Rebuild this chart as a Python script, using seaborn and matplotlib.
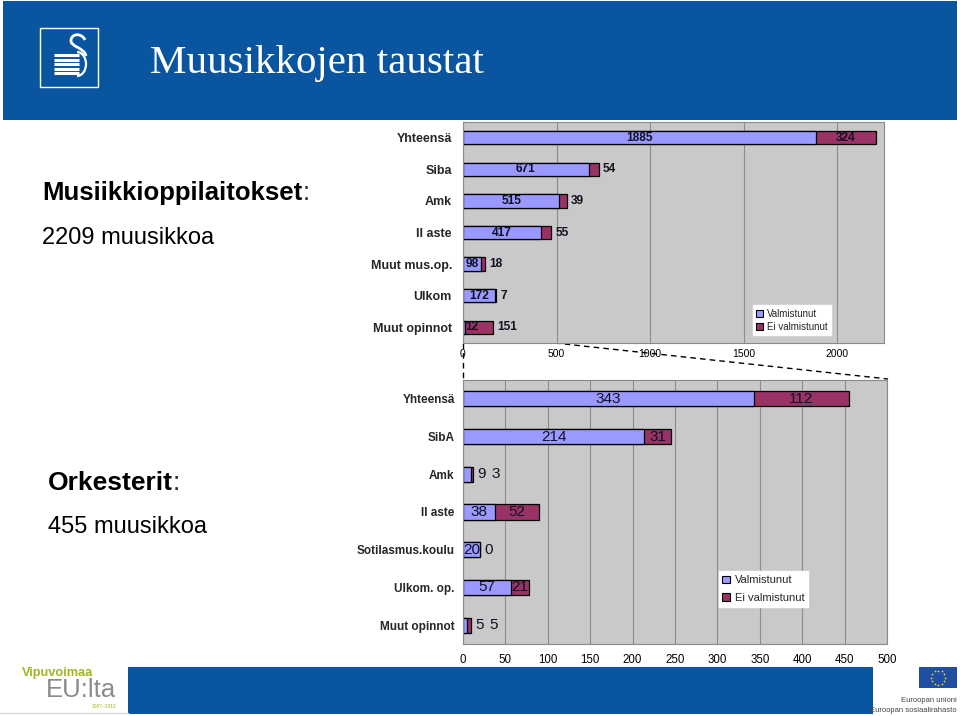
import numpy as np
import matplotlib
matplotlib.use('Agg')
import matplotlib.pyplot as plt
import seaborn as sns
from matplotlib.patches import Rectangle, Patch, Arc, PathPatch
from matplotlib.path import Path
from matplotlib.lines import Line2D

# --- data -----------------------------------------------------------------
series_names = ['Valmistunut', 'Ei valmistunut']

school_cats = ['Yhteensä', 'Siba', 'Amk', 'II aste', 'Muut mus.op.', 'Ulkom', 'Muut opinnot']
school_valm = [1885, 671, 515, 417, 98, 172, 12]
school_ei = [324, 54, 39, 55, 18, 7, 151]

orch_cats = ['Yhteensä', 'SibA', 'Amk', 'II aste', 'Sotilasmus.koulu', 'Ulkom. op.', 'Muut opinnot']
orch_valm = [343, 214, 9, 38, 20, 57, 5]
orch_ei = [112, 31, 3, 52, 0, 21, 5]

PURPLE = '#9999ff'
RED = '#993366'
BLUE = '#0a55a0'
PLOT_BG = '#c9c9c9'

sns.set_theme(style='white')
plt.rcParams['font.family'] = ['Liberation Sans', 'DejaVu Sans']

W, H = 960, 716
fig = plt.figure(figsize=(9.6, 7.16), dpi=100)
fig.patch.set_facecolor('white')

# background axes in pixel coordinates for the slide decoration
bg = fig.add_axes([0, 0, 1, 1])
bg.set_xlim(0, W)
bg.set_ylim(H, 0)
bg.axis('off')


def box(x0, y0, x1, y1):
    return [x0 / W, 1 - y1 / H, (x1 - x0) / W, (y1 - y0) / H]


def draw_stack(ax, cats, valm, ei, xmax, xstep, bar_w, inside_min,
               cat_fs, val_fs, val_weight, tick_fs, tick_pad, ypad,
               leg_anchor, leg_fs, leg_spacing):
    totals = [a + b for a, b in zip(valm, ei)]
    sns.barplot(x=totals, y=cats, orient='h', color=RED, width=bar_w,
                edgecolor='black', linewidth=0.9, saturation=1, ax=ax)
    sns.barplot(x=valm, y=cats, orient='h', color=PURPLE, width=bar_w,
                edgecolor='black', linewidth=0.9, saturation=1, ax=ax)
    ax.set_facecolor(PLOT_BG)
    ax.set_xlim(0, xmax)
    ax.set_ylim(len(cats) - 0.5, -0.5)
    ax.set_xticks(np.arange(0, xmax + 1, xstep))
    ax.set_axisbelow(True)
    ax.xaxis.grid(True, color='#8c8c8c', lw=0.8)
    ax.yaxis.grid(False)
    ax.set_xlabel('')
    ax.set_ylabel('')
    for s in ax.spines.values():
        s.set_color('#8a8a8a')
        s.set_linewidth(0.8)
    ax.tick_params(axis='x', length=0, pad=tick_pad, labelsize=tick_fs, colors='black')
    ax.tick_params(axis='y', length=0, pad=ypad, labelsize=cat_fs)
    for t in ax.get_yticklabels():
        t.set_fontweight('bold')
    ax.set_yticks(np.arange(-0.5, len(cats), 1), minor=True)
    ax.tick_params(axis='y', which='minor', length=4, direction='out', color='#8a8a8a')

    # data labels: inside the segment when it is wide enough, else after the bar
    for i in range(len(cats)):
        shift = 0
        segs = [(0, valm[i]), (valm[i], ei[i])]
        for k, (start, width) in enumerate(segs):
            label = str(width)
            if width >= inside_min[k] and width > 0:
                xc = start + max(width / 2, xmax * 0.02)
                ax.text(xc, i, label, ha='center', va='center', fontsize=val_fs,
                        fontweight=val_weight, color='#111122')
            else:
                ax.annotate(label, xy=(totals[i], i), xytext=(3 + shift, 0),
                            textcoords='offset points', ha='left', va='center',
                            fontsize=val_fs, fontweight=val_weight, color='#111122')
                shift += len(label) * val_fs * 0.56 + 4

    handles = [Patch(facecolor=PURPLE, edgecolor='black', lw=0.8),
               Patch(facecolor=RED, edgecolor='black', lw=0.8)]
    ax.legend(handles, series_names, loc='lower right', bbox_to_anchor=leg_anchor,
              frameon=True, fancybox=False, framealpha=1, facecolor='white',
              edgecolor='white', fontsize=leg_fs, handlelength=0.7, handleheight=0.7,
              handletextpad=0.4, borderpad=0.35, labelspacing=leg_spacing,
              borderaxespad=0)


ax_top = fig.add_axes(box(463, 122, 884, 343))
draw_stack(ax_top, school_cats, school_valm, school_ei, 2250, 500, 0.42, (0, 200),
           cat_fs=9, val_fs=8.6, val_weight='bold', tick_fs=7.5, tick_pad=4, ypad=8,
           leg_anchor=(0.874, 0.036), leg_fs=7, leg_spacing=0.3)

ax_bot = fig.add_axes(box(463, 380, 887, 644))
draw_stack(ax_bot, orch_cats, orch_valm, orch_ei, 500, 50, 0.40, (15, 15),
           cat_fs=8.5, val_fs=11, val_weight='normal', tick_fs=8.3, tick_pad=7, ypad=6,
           leg_anchor=(0.814, 0.14), leg_fs=8, leg_spacing=0.7)

# --- slide decoration -----------------------------------------------------
bg.add_patch(Rectangle((3, 1), 954, 119, color=BLUE, lw=0))
bg.text(150, 64, 'Muusikkojen taustat', family='Liberation Serif', fontsize=29.5,
        color='white', ha='left', va='center')

# logo
bg.add_patch(Rectangle((40, 28), 58, 59, fill=False, ec='white', lw=1))
for yy in [55, 59.5, 64, 68.5, 73]:
    bg.plot([54, 79], [yy, yy], color='white', lw=2.2, solid_capstyle='butt')
bg.add_patch(Arc((77, 64), 18, 24, theta1=-90, theta2=90, ec='white', lw=1.6))
s_path = Path([(85, 40), (82, 33), (72, 33), (71, 40), (70, 47), (84, 47), (86, 56)],
              [Path.MOVETO] + [Path.CURVE4] * 6)
bg.add_patch(PathPatch(s_path, fill=False, ec='white', lw=2))

# left text
t1 = bg.text(42, 193, 'Musiikkioppilaitokset', fontsize=18.5, fontweight='bold',
             ha='left', va='center', color='black')
bg.annotate(':', xy=(1, 0.5), xycoords=t1, ha='left', va='center', fontsize=18.5)
bg.text(42, 238, '2209 muusikkoa', fontsize=17, ha='left', va='center', color='black')
t2 = bg.text(48, 483, 'Orkesterit', fontsize=19, fontweight='bold',
             ha='left', va='center', color='black')
bg.annotate(':', xy=(1, 0.5), xycoords=t2, ha='left', va='center', fontsize=19)
bg.text(48, 527, '455 muusikkoa', fontsize=17, ha='left', va='center', color='black')

# zoom callout lines
bg.add_line(Line2D([463, 463], [343, 380], color='black', lw=1, ls=(0, (4, 3))))
bg.add_line(Line2D([555, 888], [343, 379], color='black', lw=1, ls=(0, (4, 3))))

# footer
bg.add_patch(Rectangle((128, 667), 745, 47, color=BLUE, lw=0))
bg.text(22, 673, 'Vipuvoimaa', fontsize=9.2, fontweight='bold', color='#a4b41e',
        ha='left', va='center')
bg.text(46, 690, 'EU:lta', fontsize=18.5, color='#8a8a8a', ha='left', va='center')
bg.text(116, 707, '2007–2013', fontsize=3.5, color='#a4b41e', ha='right', va='center')
bg.plot([0, 128], [713, 713], color='#d8d8d8', lw=1)

bg.add_patch(Rectangle((919, 667), 38, 21, color='#1f4fa0', lw=0))
ang = np.arange(12) * np.pi / 6
bg.scatter(938 + 7 * np.cos(ang), 677.5 + 7 * np.sin(ang), s=1.5, color='#ffdd00', lw=0)
bg.text(957, 701, 'Euroopan unioni', fontsize=5.5, color='#444444', ha='right', va='center')
bg.text(957, 711, 'Euroopan sosiaalirahasto', fontsize=5.5, color='#444444', ha='right', va='center')

fig.savefig('out.png', dpi=100)
